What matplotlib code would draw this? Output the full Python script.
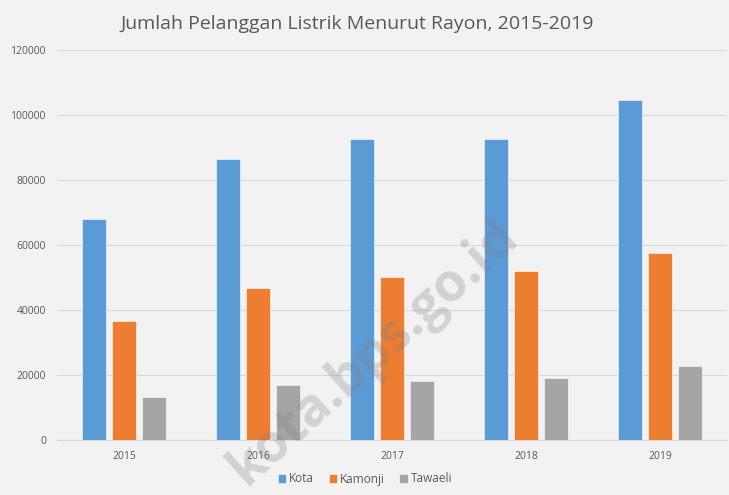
import numpy as np
import matplotlib.pyplot as plt

# Data
years = ['2015', '2016', '2017', '2018', '2019']
kota = [67900, 86600, 92500, 92500, 104600]
kamonji = [36700, 46800, 50100, 52100, 57400]
tawaeli = [13300, 17000, 18200, 19000, 22700]

series = [('Kota', kota, '#5b9bd5'),
          ('Kamonji', kamonji, '#ed7d31'),
          ('Tawaeli', tawaeli, '#a5a5a5')]

plt.rcParams['font.family'] = ['Open Sans', 'DejaVu Sans']

fig = plt.figure(figsize=(7.29, 4.95), dpi=100, facecolor='#f2f2f2')
ax = fig.add_axes([57 / 729, 55 / 495, 670 / 729, 390 / 495])
ax.set_facecolor('#f2f2f2')

x = np.arange(len(years))
step = 0.222
width = 0.178
for i, (name, vals, col) in enumerate(series):
    ax.bar(x + (i - 1) * step, vals, width, color=col, label=name,
           edgecolor='white', linewidth=0.4, zorder=3)

ax.set_xlim(-0.5, len(years) - 0.5)
ax.set_ylim(0, 120000)
ax.set_yticks(range(0, 120001, 20000))
ax.set_xticks(x)
ax.set_xticklabels(years)
ax.grid(axis='y', color='#d9d9d9', linewidth=0.8, zorder=0)
ax.tick_params(length=0, labelsize=7.5, colors='#595959', pad=8)
for s in ['top', 'right', 'left']:
    ax.spines[s].set_visible(False)
ax.spines['bottom'].set_color('#d9d9d9')

fig.text(357 / 729, 1 - 24 / 495, 'Jumlah Pelanggan Listrik Menurut Rayon, 2015-2019',
         ha='center', va='center', fontsize=14, color='#595959')

fig.legend(loc='center', bbox_to_anchor=(365 / 729, 1 - 479 / 495), ncol=3,
           frameon=False, fontsize=8.5, handlelength=0.7, handleheight=0.7,
           handletextpad=0.3, columnspacing=1.2, labelcolor='#595959')

# watermark
fig.text(374 / 729, 1 - 352 / 495, 'kota.bps.go.id', ha='center', va='center',
         rotation=42, fontsize=38, fontweight='bold', color='#808080', alpha=0.28,
         family=['Open Sans', 'DejaVu Sans'], zorder=10)

fig.savefig('out.png', dpi=100, facecolor=fig.get_facecolor())
